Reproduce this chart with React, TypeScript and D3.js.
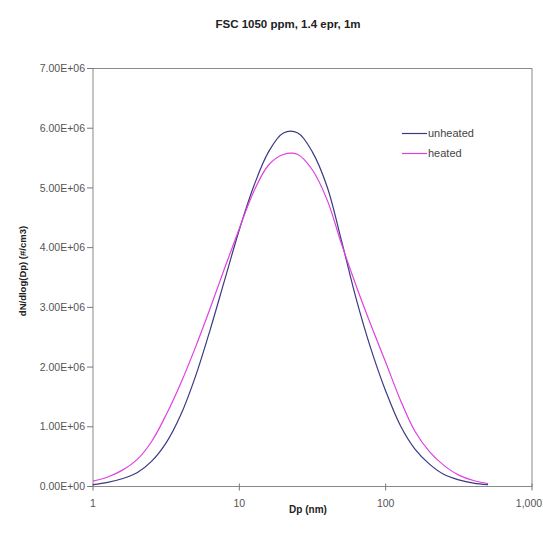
import React from "react";
import * as d3 from "d3";

// Particle diameters (nm), evenly spaced on a log axis
const diameters = [
  1.0, 1.26, 1.58, 2.0, 2.51, 3.16, 3.98, 5.01, 6.31, 7.94,
  10.0, 12.6, 15.8, 20.0, 25.1, 31.6, 39.8, 50.1, 63.1, 79.4,
  100, 126, 158, 200, 251, 316, 398, 501,
];

// dN/dlog(Dp), in millions of particles per cm3
const unheatedM = [
  0.03, 0.07, 0.13, 0.23, 0.42, 0.73, 1.2, 1.84, 2.62, 3.46,
  4.3, 5.04, 5.6, 5.92, 5.92, 5.6, 5.02, 4.1, 3.13, 2.3,
  1.6, 1.02, 0.63, 0.37, 0.2, 0.11, 0.055, 0.03,
];
const heatedM = [
  0.09, 0.16, 0.27, 0.45, 0.75, 1.2, 1.73, 2.33, 2.98, 3.66,
  4.32, 4.95, 5.38, 5.56, 5.56, 5.3, 4.8, 4.05, 3.35, 2.7,
  2.08, 1.45, 0.93, 0.58, 0.35, 0.19, 0.1, 0.05,
];

const seriesNames = ["unheated", "heated"];
const seriesColors = ["#3a3a80", "#e040e0"];

const yTickValues = [0, 1e6, 2e6, 3e6, 4e6, 5e6, 6e6, 7e6];
const yTickLabels = [
  "0.00E+00", "1.00E+06", "2.00E+06", "3.00E+06",
  "4.00E+06", "5.00E+06", "6.00E+06", "7.00E+06",
];
const xTickValues = [1, 10, 100, 1000];
const xTickLabels = ["1", "10", "100", "1,000"];

const title = "FSC 1050 ppm, 1.4 epr, 1m";
const xTitle = "Dp (nm)";
const yTitle = "dN/dlog(Dp) (#/cm3)";

const W = 543;
const H = 533;
const plot = { left: 93, right: 532, top: 68.5, bottom: 486.5 };
const font = "'Liberation Sans', Arial, sans-serif";

export default function App() {
  const x = d3.scaleLog().domain([1, 1000]).range([plot.left, plot.right]);
  const y = d3.scaleLinear().domain([0, 7e6]).range([plot.bottom, plot.top]);

  const line = d3
    .line<[number, number]>()
    .x((d) => x(d[0]))
    .y((d) => y(d[1] * 1e6))
    .curve(d3.curveCatmullRom.alpha(0.5));

  const series = [unheatedM, heatedM].map((vals) =>
    diameters.map((dp, i) => [dp, vals[i]] as [number, number])
  );

  const legendX = 402;
  const legendY = [133.5, 153.5];

  return (
    <svg
      width={W}
      height={H}
      style={{ position: "absolute", left: 0, top: 0, background: "#fff" }}
      fontFamily={font}
    >
      <rect x={0} y={0} width={W} height={H} fill="#fff" />
      <text
        x={288}
        y={28}
        textAnchor="middle"
        fontSize={11.5}
        fontWeight="bold"
        fill="#222"
      >
        {title}
      </text>

      {/* plot frame */}
      <rect
        x={plot.left}
        y={plot.top}
        width={plot.right - plot.left}
        height={plot.bottom - plot.top}
        fill="none"
        stroke="#8a8a8a"
        strokeWidth={1}
      />

      {/* y axis */}
      {yTickValues.map((v, i) => (
        <g key={v}>
          <line
            x1={plot.left - 6}
            x2={plot.left}
            y1={y(v)}
            y2={y(v)}
            stroke="#777"
          />
          <text
            x={85}
            y={y(v)}
            dy="0.35em"
            textAnchor="end"
            fontSize={10.5}
            fill="#555"
          >
            {yTickLabels[i]}
          </text>
        </g>
      ))}

      {/* x axis */}
      {xTickValues.map((v, i) => (
        <g key={v}>
          <line
            x1={x(v)}
            x2={x(v)}
            y1={plot.bottom - 3}
            y2={plot.bottom + 4}
            stroke="#777"
          />
          <text
            x={Math.min(x(v), W - 14)}
            y={507}
            textAnchor="middle"
            fontSize={10.5}
            fill="#555"
          >
            {xTickLabels[i]}
          </text>
        </g>
      ))}

      <text
        x={308}
        y={513}
        textAnchor="middle"
        fontSize={10}
        fontWeight="bold"
        fill="#222"
      >
        {xTitle}
      </text>
      <text
        transform={`translate(26, 271) rotate(-90)`}
        textAnchor="middle"
        fontSize={9.5}
        fontWeight="bold"
        fill="#222"
      >
        {yTitle}
      </text>

      {/* distribution curves */}
      {series.map((pts, i) => (
        <path
          key={seriesNames[i]}
          d={line(pts) ?? ""}
          fill="none"
          stroke={seriesColors[i]}
          strokeWidth={1.2}
        />
      ))}

      {/* legend */}
      {seriesNames.map((name, i) => (
        <g key={name}>
          <line
            x1={legendX}
            x2={legendX + 25}
            y1={legendY[i]}
            y2={legendY[i]}
            stroke={seriesColors[i]}
            strokeWidth={1.2}
          />
          <text
            x={legendX + 26}
            y={legendY[i]}
            dy="0.35em"
            fontSize={11}
            fill="#444"
          >
            {name}
          </text>
        </g>
      ))}
    </svg>
  );
}
